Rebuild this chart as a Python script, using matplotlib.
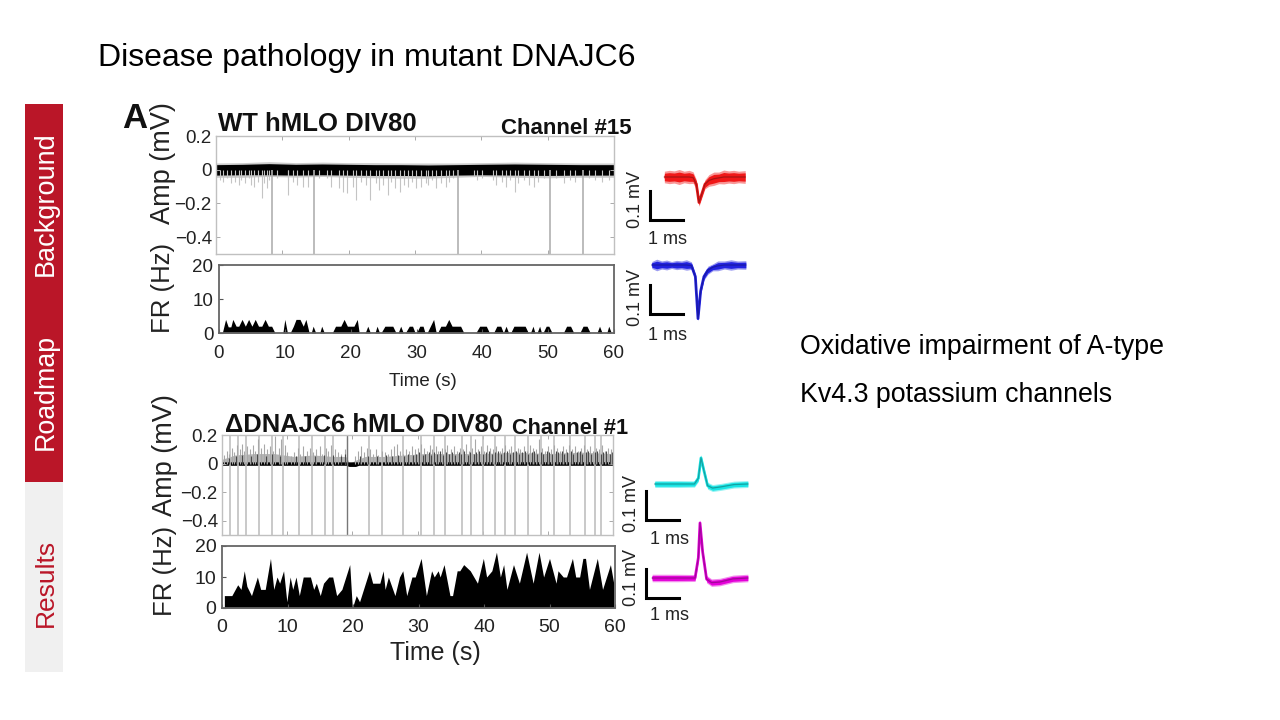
import matplotlib
matplotlib.use('Agg')
import matplotlib.pyplot as plt
from matplotlib.patches import Rectangle

plt.rcParams['font.family'] = ['Liberation Sans', 'DejaVu Sans']

W, H = 1280, 720
RED = '#BA1628'
LIGHT = '#F0F0F0'

# --- WT recording
WT_LONG_T = [8.4, 14.8, 36.5, 50.3, 55.4]
WT_SHORT_T = [0.6, 1.1, 1.7, 2.3, 2.9, 3.4, 3.8, 4.3, 4.9, 5.3, 5.8, 6.3, 6.9, 7.2, 7.7, 8.0,
              9.2, 10.8, 10.9, 11.6, 12.2, 13.1, 13.9, 15.6, 16.8, 17.4, 18.6, 19.1, 19.8,
              20.6, 21.1, 21.9, 22.6, 23.2, 24.1, 24.6, 25.2, 25.9, 26.4, 27.0, 27.8, 28.3,
              28.9, 29.5, 30.2, 30.9, 31.6, 32.0, 32.6, 33.2, 33.9, 34.6, 35.2, 35.8,
              38.9, 39.4, 40.1, 41.7, 42.2, 43.1, 43.7, 44.3, 45.0, 45.5, 46.4, 47.2, 47.9,
              48.6, 49.5, 51.2, 52.4, 53.3, 54.1, 56.3, 57.1, 58.2, 59.3]
WT_SHORT_MV = [-0.06, -0.07, -0.05, -0.08, -0.07, -0.09, -0.06, -0.08, -0.05, -0.09, -0.10, -0.07,
               -0.17, -0.08, -0.11, -0.06, -0.05, -0.06, -0.15, -0.07, -0.09, -0.10, -0.10,
               -0.05, -0.05, -0.10, -0.11, -0.13, -0.14, -0.10, -0.18, -0.07, -0.09, -0.18,
               -0.08, -0.12, -0.09, -0.15, -0.07, -0.11, -0.13, -0.09, -0.10, -0.07, -0.11,
               -0.10, -0.08, -0.09, -0.06, -0.11, -0.08, -0.10, -0.07, -0.05,
               -0.04, -0.06, -0.05, -0.06, -0.09, -0.07, -0.10, -0.06, -0.13, -0.08, -0.06,
               -0.09, -0.10, -0.07, -0.05, -0.05, -0.08, -0.06, -0.07, -0.05, -0.06, -0.07, -0.06]
WT_BAND_T = [0, 4, 8, 12, 16, 20, 24, 28, 32, 36, 40, 45, 50, 55, 60]
WT_BAND_HI = [0.03, 0.032, 0.036, 0.032, 0.034, 0.032, 0.03, 0.03, 0.028, 0.03, 0.032, 0.034, 0.032, 0.03, 0.03]
WT_BAND_LO = [-0.032, -0.03, -0.03, -0.032, -0.03, -0.032, -0.034, -0.034, -0.036, -0.032, -0.03, -0.032, -0.034, -0.032, -0.032]
# faint fuzz around the band
WT_FUZZ_HI = [0.04, 0.042, 0.048, 0.042, 0.045, 0.042, 0.042, 0.04, 0.04, 0.04, 0.042, 0.045, 0.042, 0.04, 0.04]
WT_FUZZ_LO = [-0.045, -0.045, -0.04, -0.044, -0.04, -0.045, -0.048, -0.05, -0.05, -0.045, -0.04, -0.045, -0.048, -0.045, -0.045]

WT_FR_T = [0.5, 1.0, 1.4, 1.8, 2.1, 2.6, 3.0, 3.5, 4.0, 4.5, 5.0, 5.5, 6.0, 6.5, 7.0, 7.5, 8.0, 8.5,
           9.7, 10.0, 10.4, 10.8, 11.3, 11.7, 12.3, 12.8, 13.2, 13.7, 14.0, 14.3, 14.7,
           15.3, 15.6, 16.0, 17.2, 17.7, 18.5, 19.0, 19.5, 20.5, 21.0, 21.3,
           22.2, 22.6, 23.0, 23.7, 24.0, 24.4, 24.6, 25.2, 26.4, 26.9, 27.2, 27.6, 28.0,
           28.3, 28.9, 29.4, 29.8, 30.0, 30.5, 31.0, 31.3, 31.6, 32.1, 32.6, 33.0,
           33.2, 33.7, 34.4, 34.9, 35.4, 36.7, 37.2, 39.0, 39.6, 40.6, 41.1, 41.7,
           42.2, 42.8, 43.2, 43.6, 44.0, 44.3, 44.8, 46.5, 47.0, 47.3, 47.7, 48.0,
           48.3, 48.7, 49.0, 49.2, 49.7, 50.1, 50.6, 52.3, 52.8, 53.4, 53.9, 54.8, 55.3,
           55.9, 56.4, 57.4, 57.8, 58.2, 58.9, 59.2, 59.6, 60.0]
WT_FR_HZ = [0, 4, 1.8, 1.8, 4, 2, 2, 4, 2, 4, 2, 4, 2, 2, 4, 2, 2, 0,
            0, 4, 0, 0, 2, 4, 4, 2, 4, 0, 0, 2, 0,
            0, 2, 0, 0, 2, 2, 4, 2, 2, 4, 0,
            0, 2, 0, 0, 2, 0, 0, 2, 2, 0, 0, 2, 0,
            0, 2, 2, 0, 0, 2, 2, 0, 0, 2, 4, 0,
            0, 2, 2, 4, 2, 2, 0, 0, 2, 2, 0, 0,
            2, 2, 0, 2, 0, 0, 2, 2, 0, 0, 2, 0,
            0, 2, 0, 0, 2, 2, 0, 0, 2, 2, 0, 0, 2,
            2, 0, 0, 2, 0, 0, 2, 0, 0]

# --- mutant recording
KO_LONG_T = [1.2, 2.5, 3.7, 5.7, 7.7, 9.4, 11.8, 13.8, 15.8, 17.0, 22.5, 24.6, 27.7, 30.5, 32.6,
             34.2, 36.9, 38.2, 40.1, 41.9, 43.4, 45.0, 47.0, 49.0, 51.0, 53.4, 55.7, 57.2, 58.1]
KO_DARK_T = [19.2]
KO_UP_T = [0.3, 0.7, 1.1, 1.5, 1.9, 2.3, 2.7, 3.0, 3.4, 3.9, 4.3, 4.7, 5.1, 5.6, 6.0, 6.5, 6.9, 7.3,
           7.8, 8.2, 8.7, 9.1, 9.6, 10.0, 10.6, 11.1, 11.6, 12.0, 12.5, 13.0, 13.5, 14.0, 14.5,
           15.0, 15.4, 15.9, 16.3, 16.8, 17.3, 17.8, 18.3, 18.8, 19.2, 20.4, 20.9, 21.3, 21.8,
           22.2, 22.7, 23.1, 23.6, 24.0, 24.5, 25.0, 25.4, 25.9, 26.4, 26.8, 27.3, 27.8, 28.2,
           28.7, 29.1, 29.6, 30.0, 30.5, 31.0, 31.4, 31.9, 32.3, 32.8, 33.2, 33.7, 34.2, 34.6,
           35.1, 35.6, 36.0, 36.5, 37.0, 37.4, 37.9, 38.4, 38.8, 39.3, 39.7, 40.2, 40.7, 41.2,
           41.6, 42.1, 42.6, 43.0, 43.5, 44.0, 44.4, 44.9, 45.4, 45.8, 46.3, 46.8, 47.2, 47.7,
           48.2, 48.6, 49.1, 49.5, 50.0, 50.5, 50.9, 51.4, 51.9, 52.3, 52.8, 53.2, 53.7, 54.2,
           54.6, 55.1, 55.5, 56.0, 56.5, 56.9, 57.4, 57.8, 58.3, 58.8, 59.2, 59.7]
KO_UP_MV = [0.06, 0.09, 0.07, 0.11, 0.08, 0.13, 0.10, 0.14, 0.09, 0.12, 0.10, 0.13, 0.09, 0.17, 0.11,
            0.14, 0.10, 0.12, 0.09, 0.19, 0.11, 0.17, 0.13, 0.08, 0.05, 0.08, 0.11, 0.07, 0.12,
            0.09, 0.11, 0.08, 0.10, 0.12, 0.07, 0.11, 0.09, 0.13, 0.10, 0.08, 0.07, 0.10, 0.18,
            0.05, 0.09, 0.12, 0.08, 0.11, 0.10, 0.07, 0.10, 0.06, 0.09, 0.08, 0.07, 0.10, 0.12,
            0.14, 0.09, 0.07, 0.10, 0.09, 0.12, 0.10, 0.11, 0.14, 0.11, 0.09, 0.13, 0.10, 0.12,
            0.09, 0.11, 0.10, 0.13, 0.10, 0.12, 0.09, 0.11, 0.10, 0.14, 0.09, 0.11, 0.17, 0.10,
            0.12, 0.09, 0.13, 0.11, 0.10, 0.12, 0.09, 0.11, 0.13, 0.10, 0.12, 0.09, 0.11, 0.10,
            0.12, 0.09, 0.13, 0.11, 0.10, 0.17, 0.11, 0.09, 0.12, 0.10, 0.13, 0.11, 0.09, 0.12,
            0.10, 0.13, 0.10, 0.12, 0.09, 0.11, 0.13, 0.10, 0.12, 0.09, 0.11, 0.10, 0.13, 0.09,
            0.11, 0.10]
KO_MID_T = [1.0, 2.2, 3.1, 4.5, 5.4, 6.7, 7.6, 8.9, 11.4, 12.7, 14.2, 15.7, 17.1, 18.2, 18.9, 21.1,
            22.4, 23.8, 25.2, 26.1, 27.0, 28.0, 28.5, 29.3, 29.8, 30.3, 30.8, 31.2, 31.7, 32.1,
            32.6, 33.0, 33.5, 33.9, 34.4, 34.9, 35.3, 35.8, 36.3, 36.7, 37.2, 37.7, 38.1, 38.6,
            39.0, 39.5, 40.0, 40.5, 40.9, 41.4, 41.9, 42.3, 42.8, 43.3, 43.7, 44.2, 44.7, 45.1,
            45.6, 46.1, 46.5, 47.0, 47.5, 47.9, 48.4, 48.9, 49.3, 49.8, 50.2, 50.7, 51.2, 51.6,
            52.1, 52.5, 53.0, 53.5, 53.9, 54.4, 54.9, 55.3, 55.8, 56.2, 56.7, 57.2, 57.6, 58.1,
            58.5, 59.0, 59.5, 59.9]
KO_MID_MV = [0.04, 0.05, 0.06, 0.05, 0.07, 0.05, 0.07, 0.05, 0.05, 0.05, 0.05, 0.06, 0.06, 0.05, 0.07, 0.05,
             0.05, 0.05, 0.06, 0.05, 0.06, 0.05, 0.07, 0.06, 0.07, 0.08, 0.06, 0.07, 0.08, 0.06,
             0.08, 0.07, 0.09, 0.06, 0.08, 0.07, 0.08, 0.06, 0.08, 0.07, 0.09, 0.06, 0.08, 0.07,
             0.08, 0.09, 0.07, 0.08, 0.09, 0.07, 0.08, 0.09, 0.07, 0.08, 0.09, 0.07, 0.08, 0.09,
             0.07, 0.08, 0.09, 0.07, 0.08, 0.09, 0.07, 0.08, 0.07, 0.09, 0.08, 0.07, 0.09, 0.08,
             0.09, 0.07, 0.08, 0.09, 0.07, 0.08, 0.09, 0.07, 0.08, 0.09, 0.07, 0.08, 0.09, 0.07,
             0.08, 0.09, 0.07, 0.08]
# grey mass under the spikes
KO_ENV_T = [0, 2, 5, 8, 11, 14, 17, 19, 19.6, 20.3, 22, 25, 28, 31, 35, 40, 45, 50, 55, 60]
KO_ENV_MV = [0.03, 0.06, 0.07, 0.07, 0.05, 0.06, 0.05, 0.05, 0.0, 0.02, 0.05, 0.05, 0.06, 0.07, 0.07, 0.07, 0.08, 0.07, 0.08, 0.07]
KO_BAND_T = [0, 19, 19.5, 20.5, 21, 60]
KO_BAND_HI = [0.012, 0.012, 0.012, 0.012, 0.012, 0.013]
KO_BAND_LO = [-0.012, -0.012, -0.02, -0.02, -0.012, -0.012]

KO_FR_T = [0.36, 1.5, 2.4, 2.9, 3.4, 3.8, 4.5, 5.4, 5.9, 6.6, 7.4, 7.9, 8.4, 8.8, 9.4, 9.9, 10.4, 10.8,
           11.3, 11.8, 12.4, 13.5, 14.0, 14.4, 15.0, 15.5, 16.3, 16.9, 17.5, 18.3, 19.5, 19.9,
           20.5, 21.0, 21.6, 22.5, 23.0, 24.1, 24.6, 24.9, 25.4, 26.4, 27.1, 27.6, 28.2, 29.0,
           29.5, 30.4, 31.2, 32.0, 32.4, 33.0, 33.3, 33.9, 34.8, 35.2, 35.9, 36.3, 36.9, 37.9,
           39.0, 39.9, 40.4, 41.2, 41.9, 42.5, 43.0, 43.5, 44.5, 45.4, 46.5, 47.5, 48.4, 49.1,
           50.0, 51.0, 51.3, 52.1, 52.6, 53.5, 54.0, 54.6, 55.1, 55.5, 56.1, 57.3, 58.1, 59.3, 59.8]
KO_FR_HZ = [4, 4, 7.5, 6, 12, 7, 4, 10, 6, 6, 16, 6, 10, 8, 12, 2, 10, 6,
            10, 4, 10, 10, 6, 8, 4, 8, 10, 10, 4, 6, 14, 0,
            4, 2, 6, 12, 8, 8, 12, 6, 10, 4, 10, 12, 4, 10,
            10, 16, 4, 12, 10, 12, 10, 14, 4, 4, 12, 12, 14, 12,
            8, 16, 10, 12, 18, 10, 14, 6, 14, 8, 18, 8, 18, 10,
            16, 8, 12, 10, 10, 16, 10, 10, 16, 16, 6, 16, 6, 14, 8]

# --- spike waveforms, ms from the peak and mV from baseline
RED_T = [-1.05, -0.9, -0.75, -0.6, -0.45, -0.3, -0.18, -0.08, 0.0, 0.08, 0.18, 0.3, 0.45, 0.6, 0.75, 0.9, 1.05, 1.2, 1.4]
RED_MV = [0, 0, 0, 0, 0, 0, -0.002, -0.025, -0.088, -0.06, -0.025, -0.012, -0.006, -0.003, 0, 0, 0, 0, 0]
RED_SPREAD = [0.02, 0.023, 0.021, 0.026, 0.02, 0.023, 0.02, 0.016, 0.013, 0.014, 0.016, 0.02, 0.023, 0.02, 0.024, 0.021, 0.023, 0.02, 0.022]
BLUE_T = [-1.4, -1.25, -1.1, -0.95, -0.8, -0.65, -0.5, -0.35, -0.2, -0.08, 0.0, 0.08, 0.18, 0.3, 0.45, 0.6, 0.8, 1.0, 1.2, 1.45]
BLUE_MV = [0, 0, 0, 0, 0, 0, 0, 0, -0.002, -0.04, -0.185, -0.09, -0.04, -0.018, -0.008, -0.003, 0, 0, 0, 0]
BLUE_SPREAD = [0.012, 0.02, 0.014, 0.017, 0.012, 0.016, 0.014, 0.018, 0.013, 0.01, 0.008, 0.01, 0.012, 0.014, 0.012, 0.017, 0.014, 0.018, 0.014, 0.015]
CYAN_T = [-1.4, -0.7, -0.2, -0.08, 0.0, 0.08, 0.2, 0.35, 0.6, 1.0, 1.42]
CYAN_MV = [0, 0, 0, 0.02, 0.09, 0.05, -0.006, -0.014, -0.01, -0.002, 0]
CYAN_SPREAD = [0.012, 0.012, 0.011, 0.012, 0.012, 0.012, 0.012, 0.012, 0.012, 0.012, 0.012]
MAGENTA_T = [-1.45, -0.7, -0.15, -0.05, 0.0, 0.08, 0.2, 0.35, 0.6, 1.0, 1.45]
MAGENTA_MV = [0, 0, 0, 0.07, 0.19, 0.09, -0.004, -0.016, -0.014, -0.003, 0]
MAGENTA_SPREAD = [0.013, 0.013, 0.012, 0.012, 0.012, 0.012, 0.013, 0.013, 0.013, 0.013, 0.013]

AMP_TICKS = [-0.4, -0.2, 0, 0.2]
AMP_LABELS = ['\u22120.4', '\u22120.2', '0', '0.2']
FR_TICKS = [0, 10, 20]
TIME_TICKS = [0, 10, 20, 30, 40, 50, 60]

fig = plt.figure(figsize=(W / 100, H / 100), dpi=100, facecolor='white')


def px_axes(left, top, right, bottom):
    return fig.add_axes([left / W, 1 - bottom / H, (right - left) / W, (bottom - top) / H])


def label(x, y, s, size, **kw):
    kw.setdefault('ha', 'center')
    kw.setdefault('va', 'center')
    fig.text(x / W, 1 - y / H, s, fontsize=size, **kw)


def style_box(ax, color, width):
    for sp in ax.spines.values():
        sp.set_color(color)
        sp.set_linewidth(width)


def amp_panel(box, tick_size):
    ax = px_axes(*box)
    ax.set_xlim(0, 60)
    ax.set_ylim(-0.5, 0.2)
    ax.set_xticks(TIME_TICKS)
    ax.set_xticklabels([])
    ax.set_yticks(AMP_TICKS)
    ax.set_yticklabels(AMP_LABELS, fontsize=tick_size, color='#222222')
    ax.tick_params(direction='in', top=True, right=True, length=3, width=0.7, color='#aaaaaa', pad=3)
    style_box(ax, '#c0c0c0', 1.0)
    return ax


def fr_panel(box, t, hz, tick_size, pad):
    ax = px_axes(*box)
    ax.fill_between(t, hz, 0, color='black', lw=0)
    ax.set_xlim(0, 60)
    ax.set_ylim(0, 20)
    ax.set_xticks(TIME_TICKS)
    ax.set_yticks(FR_TICKS)
    ax.tick_params(labelsize=tick_size, labelcolor='#222222', direction='in', length=3, width=0.8,
                   color='#555555')
    ax.tick_params(axis='x', pad=pad)
    ax.tick_params(axis='y', pad=4)
    style_box(ax, '#666666', 1.3)
    return ax


def spike_panel(t, mv, spread, color, peak_px, base_px, bar_corner, core):
    # whole-figure axes at 33 px/ms and 290 px/mV, origin on the spike peak and baseline
    ax = fig.add_axes([0, 0, 1, 1])
    ax.patch.set_alpha(0)
    ax.axis('off')
    ax.set_xlim(-peak_px / 33, (W - peak_px) / 33)
    ax.set_ylim((base_px - H) / 290, base_px / 290)
    lo = [m - s for m, s in zip(mv, spread)]
    hi = [m + s for m, s in zip(mv, spread)]
    ax.fill_between(t, lo, hi, color=color, alpha=0.45, lw=0)
    lo2 = [m - 0.65 * s for m, s in zip(mv, spread)]
    hi2 = [m + 0.65 * s for m, s in zip(mv, spread)]
    ax.fill_between(t, lo2, hi2, color=color, lw=0)
    # the bundle of traces is wide on the steep flanks too
    ax.plot(t, mv, color=color, lw=2.0, solid_capstyle='butt')
    ax.plot(t, mv, color=core, lw=0.9, alpha=0.45)
    # 1 ms / 0.1 mV scale bar
    x0 = (bar_corner[0] - peak_px) / 33
    y0 = (base_px - bar_corner[1]) / 290
    ax.plot([x0, x0, x0 + 1], [y0 + 0.1, y0, y0], color='black', lw=2.2, solid_joinstyle='miter')


# sidebar
side = fig.add_axes([0, 0, 1, 1])
side.axis('off')
side.set_xlim(0, W)
side.set_ylim(H, 0)
side.add_patch(Rectangle((25, 104), 38, 378, color=RED, lw=0))
side.add_patch(Rectangle((25, 482), 38, 190, color=LIGHT, lw=0))
label(46, 204, 'Background', 19.5, color='white', rotation=90)
label(46, 392, 'Roadmap', 19.3, color='white', rotation=90)
label(46, 583, 'Results', 19, color=RED, rotation=90)

label(98, 58, 'Disease pathology in mutant DNAJC6', 23, ha='left', color='black')
label(800, 347, 'Oxidative impairment of A-type', 19.3, ha='left', color='black')
label(800, 395, 'Kv4.3 potassium channels', 19.3, ha='left', color='black')

# WT traces
ax1 = amp_panel((216, 136, 614, 254), 13.5)
ax1.vlines(WT_SHORT_T, 0, WT_SHORT_MV, color='#c4c4c4', lw=0.8)
ax1.vlines(WT_LONG_T, -0.5, 0, color='#b0b0b0', lw=1.2)
ax1.fill_between(WT_BAND_T, WT_FUZZ_LO, WT_FUZZ_HI, color='#cccccc', lw=0)
ax1.fill_between(WT_BAND_T, WT_BAND_LO, WT_BAND_HI, color='black', lw=0)

fr_panel((219, 265, 614, 333), WT_FR_T, WT_FR_HZ, 13.5, 9)

label(122, 119, 'A', 25, ha='left', weight='bold', color='#111111')
label(163, 163, 'Amp (mV)', 19.5, rotation=90, color='#222222')
label(163, 288, 'FR (Hz)', 18.5, rotation=90, color='#222222')
label(218, 124, 'WT hMLO DIV80', 18.5, ha='left', weight='bold', color='#111111')
label(501, 129, 'Channel #15', 16, ha='left', weight='bold', color='#111111')
label(423, 381, 'Time (s)', 13.5, color='#222222')

# mutant traces
ax2 = amp_panel((222, 435, 613, 535), 13.5)
ax2.vlines(KO_LONG_T, -0.5, 0.2, color='#c0c0c0', lw=1.2)
ax2.fill_between(KO_ENV_T, 0, KO_ENV_MV, color='#b4b4b4', lw=0)
ax2.vlines(KO_UP_T, 0, KO_UP_MV, color='#a8a8a8', lw=0.8)
ax2.vlines(KO_MID_T, 0, KO_MID_MV, color='#484848', lw=0.8)
ax2.vlines(KO_DARK_T, -0.5, 0.2, color='#777777', lw=1.0)
ax2.fill_between(KO_BAND_T, KO_BAND_LO, KO_BAND_HI, color='black', lw=0)

fr_panel((222, 546, 615, 608), KO_FR_T, KO_FR_HZ, 14, 8)

label(165, 455, 'Amp (mV)', 19.5, rotation=90, color='#222222')
label(165, 571, 'FR (Hz)', 18.5, rotation=90, color='#222222')
label(225, 425, '\u0394DNAJC6 hMLO DIV80', 18.4, ha='left', weight='bold', color='#111111')
label(512, 429, 'Channel #1', 15.7, ha='left', weight='bold', color='#111111')
label(435, 653, 'Time (s)', 18, color='#222222')

# spike waveforms
spike_panel(RED_T, RED_MV, RED_SPREAD, '#F01818', 699, 177, (650, 220), '#501010')
spike_panel(BLUE_T, BLUE_MV, BLUE_SPREAD, '#2222E0', 698, 265, (650, 314), '#101060')
spike_panel(CYAN_T, CYAN_MV, CYAN_SPREAD, '#18E4E4', 701, 484, (646, 520), '#105050')
spike_panel(MAGENTA_T, MAGENTA_MV, MAGENTA_SPREAD, '#E400D8', 700, 578, (646, 598), '#501050')

for x, y, yb in [(635, 200, 240), (635, 298, 336)]:
    label(x, y, '0.1 mV', 13, rotation=90, color='#222222')
    label(668, yb, '1 ms', 13, color='#222222')
for x, y, yb in [(632, 503, 539), (632, 578, 615)]:
    label(x, y, '0.1 mV', 13, rotation=90, color='#222222')
    label(669, yb, '1 ms', 13, color='#222222')

fig.savefig('out.png', dpi=100)
